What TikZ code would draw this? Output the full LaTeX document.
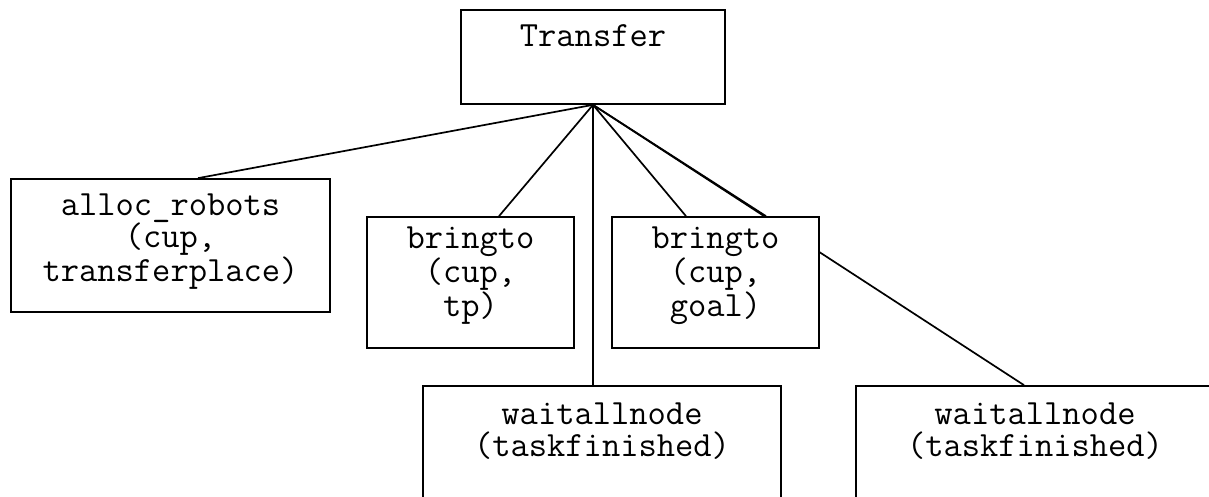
\documentclass[tikz,border=0pt]{standalone}
\pgfdeclarelayer{bg}
\pgfdeclarelayer{edges}
\pgfsetlayers{bg,edges,main}
\tikzset{
  box/.style={draw, fill=white, line width=1.7pt, inner sep=0pt},
  lbl/.style={font=\ttfamily\fontsize{35.5}{32}\selectfont, align=center, inner sep=0pt, anchor=base},
  link/.style={line width=1.7pt}
}
\begin{document}
\begin{tikzpicture}[x=1pt, y=-1pt]
  \useasboundingbox (0,0) rectangle (1209,497);
  \begin{pgfonlayer}{bg}
    \fill[white] (0,0) rectangle (1209,497);
  \end{pgfonlayer}
  \clip (0,0) rectangle (1209,497);

  % task boxes
  \node[box, minimum width=264pt, minimum height=94pt]  (T)  at (593,57)      {};
  \node[box, minimum width=319pt, minimum height=133pt] (A)  at (170.5,245.5) {};
  \node[box, minimum width=207pt, minimum height=131pt] (B1) at (470.5,282.5) {};
  \node[box, minimum width=207pt, minimum height=131pt] (B2) at (715.5,282.5) {};
  \node[box, minimum width=358pt, minimum height=133pt] (W1) at (602,452.5)   {};
  \node[box, minimum width=358pt, minimum height=133pt] (W2) at (1035,452.5)  {};

  % box labels (anchored at the baseline of their last line, 32pt per line)
  \node[lbl] (tT)  at ([yshift=-37pt]T.north)  {Transfer};
  \node[lbl] (tA)  at ([yshift=-103pt]A.north) {alloc\_robots\\(cup,\\transferplace)};
  \node[lbl] (tB1) at ([yshift=-100pt]B1.north) {bringto\\(cup,\\tp)};
  \node[lbl] (tB2) at ([yshift=-100pt]B2.north) {bringto\\(cup,\\goal)};
  \node[lbl] (tW1) at ([yshift=-71pt]W1.north) {waitallnode\\(taskfinished)};
  \node[lbl] (tW2) at ([yshift=-71pt]W2.north) {waitallnode\\(taskfinished)};

  % links from the root task, drawn beneath the boxes
  \begin{pgfonlayer}{edges}
    \draw[link] (T.south) -- ([xshift=27.5pt]A.north);
    \draw[link] (T.south) -- ([xshift=28.5pt]B1.north);
    \draw[link] (T.south) -- ([xshift=-9pt]W1.north);
    \draw[link] (T.south) -- ([xshift=-29.5pt]B2.north);
    \draw[link] (T.south) -- ([xshift=50.5pt]B2.north);
    \draw[link] (T.south) -- ([xshift=-11pt]W2.north);
  \end{pgfonlayer}
\end{tikzpicture}
\end{document}
